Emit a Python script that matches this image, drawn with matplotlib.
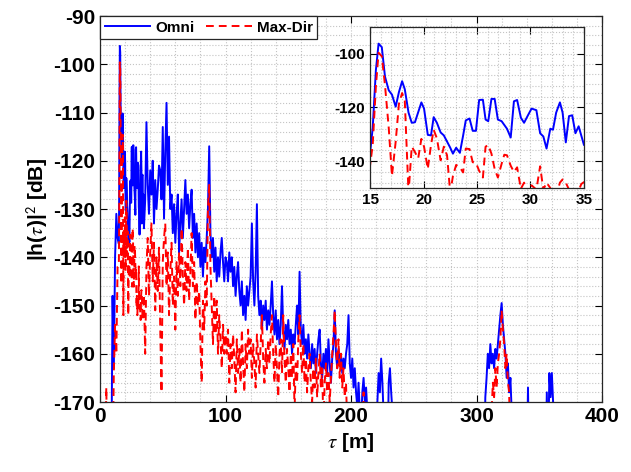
import numpy as np
import matplotlib
matplotlib.use('Agg')
import matplotlib.pyplot as plt
from matplotlib.ticker import MultipleLocator

plt.rcParams['font.family'] = ['Liberation Sans', 'DejaVu Sans']
plt.rcParams['axes.unicode_minus'] = False
plt.rcParams['mathtext.fontset'] = 'stix'

# ---- data (delay in m, power in dB); -185 = below the visible floor ----
tau_head = np.arange(0, 15)
omni_head = [-170, -185, -185, -185, -185, -185, -185, -185, -185, -185,
             -148, -163, -140, -131, -136]
maxdir_head = [-185, -185, -185, -185, -185, -167, -185, -185, -185, -185,
               -185, -164, -154, -160, -142]

tau_fine = [15.0, 15.25, 15.55, 15.8, 16.1, 16.4, 16.75, 17.05, 17.4, 17.7,
            18.0, 18.25, 18.6, 18.9, 19.2, 19.5, 19.8, 20.05, 20.4, 20.7,
            20.95, 21.25, 21.6, 21.9, 22.2, 22.5, 22.75, 23.05, 23.4, 23.7,
            23.95, 24.3, 24.6, 24.9, 25.2, 25.55, 25.8, 26.05, 26.35, 26.65,
            26.95, 27.3, 27.55, 27.8, 28.15, 28.45, 28.75, 29.1, 29.4, 29.75,
            30.1, 30.55, 30.9, 31.2, 31.5, 31.85, 32.1, 32.4, 32.75, 33.0,
            33.3, 33.6, 33.9, 34.2, 34.5, 34.75, 35.0]
omni_fine = [-137.2, -127.6, -106.0, -96.2, -97.5, -108.5, -113.6, -115.2, -119.7, -114.3,
             -110.2, -113.2, -121.9, -125.7, -125.5, -121.8, -118.1, -120.4, -130.2, -130.4,
             -123.6, -125.7, -129.3, -130.4, -132.7, -135.0, -137.2, -135.0, -136.9, -130.5,
             -124.8, -124.1, -128.7, -128.7, -117.2, -117.1, -124.5, -125.1, -116.8, -116.8,
             -124.5, -125.1, -126.5, -127.9, -131.2, -117.7, -117.2, -123.8, -125.7, -123.0,
             -120.4, -121.0, -129.6, -130.8, -135.3, -127.9, -128.3, -121.9, -118.1, -121.9,
             -133.0, -123.2, -122.9, -129.6, -127.0, -130.5, -134.0]
maxdir_fine = [-141.7, -134.0, -112.0, -99.6, -100.9, -111.7, -127.6, -145.5, -132.7, -118.7,
               -114.6, -117.5, -152.0, -134.6, -136.6, -139.0, -131.7, -134.6, -142.9, -134.0,
               -128.3, -131.5, -139.7, -134.6, -137.8, -152.0, -145.5, -141.4, -142.3, -144.2,
               -135.3, -135.5, -140.4, -140.6, -143.6, -146.1, -134.6, -134.0, -137.2, -142.9,
               -146.1, -141.0, -137.6, -137.8, -141.7, -144.0, -142.3, -150.3, -148.0, -152.0,
               -149.0, -150.6, -141.9, -150.6, -148.0, -150.0, -152.0, -153.0, -148.0, -146.8,
               -148.0, -150.6, -153.0, -152.0, -151.0, -148.5, -147.8]

tau_mid = np.arange(36, 241)
omni_mid = [-128, -112, -125, -131, -122, -127, -120, -133, -124, -130,
            -126, -121, -122, -128, -113, -132, -118, -108, -125, -115,
            -130, -127, -135, -129, -137, -131, -127, -139, -133, -128,
            -136, -130, -124, -131, -127, -134, -129, -126, -136, -131,
            -139, -133, -140, -135, -142, -137, -144, -138, -141, -136,
            -130, -117, -135, -140, -136, -143, -138, -145, -140, -144,
            -139, -136, -141, -145, -140, -141, -145, -139, -143, -140,
            -146, -142, -148, -144, -141, -147, -150, -145, -152, -148,
            -153, -146, -150, -147, -144, -133, -145, -150, -143, -129,
            -148, -152, -149, -155, -150, -153, -149, -155, -151, -154,
            -150, -145, -152, -156, -151, -157, -153, -158, -154, -146,
            -155, -159, -154, -157, -153, -158, -155, -160, -156, -158,
            -154, -150, -156, -143, -155, -158, -154, -160, -157, -161,
            -156, -160, -163, -158, -162, -159, -164, -160, -157, -155,
            -162, -165, -160, -163, -159, -164, -157, -162, -166, -161,
            -158, -151, -160, -163, -159, -162, -160, -164, -161, -163,
            -160, -158, -152, -162, -165, -161, -167, -163, -168, -171,
            -166, -172, -175, -168, -165, -170, -167, -172, -180, -185,
            -185, -185, -185, -185, -185, -170, -164, -168, -161, -166,
            -173, -185, -185, -185, -166, -163, -168, -172, -185, -185,
            -185, -185, -185, -185, -185]
maxdir_mid = [-160, -142, -136, -148, -139, -133, -145, -137, -151, -140,
              -147, -138, -155, -168, -141, -136, -133, -146, -139, -152,
              -143, -137, -150, -144, -155, -141, -148, -139, -146, -134,
              -144, -150, -141, -147, -138, -149, -143, -135, -146, -141,
              -153, -145, -150, -147, -158, -166, -149, -155, -145, -150,
              -130, -125, -142, -150, -158, -148, -156, -149, -160, -152,
              -157, -163, -154, -160, -156, -160, -155, -166, -158, -163,
              -156, -161, -168, -157, -164, -159, -166, -155, -162, -168,
              -158, -163, -155, -160, -157, -165, -158, -162, -167, -156,
              -160, -164, -158, -152, -161, -166, -159, -163, -157, -162,
              -156, -152, -160, -166, -158, -163, -169, -160, -157, -164,
              -152, -161, -166, -159, -163, -168, -160, -165, -158, -172,
              -162, -166, -157, -152, -160, -164, -158, -166, -161, -168,
              -163, -160, -166, -170, -163, -167, -161, -169, -164, -160,
              -167, -163, -175, -166, -162, -168, -164, -170, -165, -160,
              -156, -151, -158, -163, -157, -165, -160, -167, -163, -169,
              -166, -175, -185, -185, -185, -185, -185, -185, -185, -185,
              -185, -185, -185, -185, -168, -185, -185, -185, -185, -185,
              -185, -185, -185, -185, -185, -185, -185, -185, -185, -185,
              -185, -185, -185, -185, -185, -185, -185, -185, -185, -185,
              -185, -185, -185, -185, -185]

tau_tail = np.arange(300, 371)
omni_tail = [-185, -185, -185, -185, -185, -185, -185, -169, -165, -160,
             -163, -158, -162, -160, -163, -159, -161, -158, -155, -152,
             -149.5, -154, -157, -160, -165, -162, -168, -165, -172, -185,
             -185, -185, -185, -185, -185, -185, -185, -185, -185, -185,
             -185, -167, -185, -185, -185, -185, -185, -185, -185, -185,
             -185, -185, -185, -185, -185, -185, -168, -185, -164, -169,
             -164, -170, -185, -185, -185, -185, -185, -185, -185, -185,
             -185]
maxdir_tail = [-185, -185, -185, -185, -185, -185, -185, -185, -185, -185,
               -185, -185, -172, -166, -169, -163, -167, -162, -160, -157,
               -151, -155, -158, -163, -160, -166, -168, -185, -185, -185,
               -185, -185, -185, -185, -185, -185, -185, -185, -185, -185,
               -185, -185, -185, -185, -185, -185, -185, -185, -185, -185,
               -185, -185, -185, -185, -185, -185, -185, -185, -185, -185,
               -185, -185, -185, -185, -185, -185, -185, -185, -185, -185,
               -185]

tau = np.concatenate([tau_head, tau_fine, tau_mid, tau_tail])
omni = np.concatenate([omni_head, omni_fine, omni_mid, omni_tail])
maxdir = np.concatenate([maxdir_head, maxdir_fine, maxdir_mid, maxdir_tail])

blue = '#0000ff'
red = '#ff0000'
dash = (4.0, 2.6)
grid_kw = dict(color='#c4c4c4', linestyle=':', linewidth=0.8)


def style_axes(ax, fs):
    ax.tick_params(which='both', direction='in', top=True, right=True,
                   labelsize=fs, width=0.8)
    ax.tick_params(which='major', length=5)
    ax.tick_params(which='minor', length=0)
    for lab in ax.get_xticklabels() + ax.get_yticklabels():
        lab.set_fontweight('bold')
    ax.grid(True, which='both', **grid_kw)
    for s in ax.spines.values():
        s.set_linewidth(0.9)
        s.set_color('#262626')


fig = plt.figure(figsize=(6.31, 4.72), dpi=100)
ax = fig.add_axes([0.1585, 0.1483, 0.7956, 0.8178])

ax.plot(tau, omni, color=blue, lw=1.4, label='Omni')
ax.plot(tau, maxdir, color=red, lw=1.4, dashes=dash, label='Max-Dir')
ax.set_xlim(0, 400)
ax.set_ylim(-170, -90)
ax.xaxis.set_major_locator(MultipleLocator(100))
ax.xaxis.set_minor_locator(MultipleLocator(20))
ax.yaxis.set_major_locator(MultipleLocator(10))
ax.yaxis.set_minor_locator(MultipleLocator(2))
style_axes(ax, 15)
ax.set_xlabel(r'$\tau$ [m]', fontsize=15, fontweight='bold', labelpad=4)
ax.set_ylabel(r'|h($\tau$)|$^{\mathsf{2}}$ [dB]', fontsize=15,
              fontweight='bold', labelpad=2)

leg = ax.legend(loc='upper left', bbox_to_anchor=(0, 1), borderaxespad=0,
                ncol=2, fontsize=11, handlelength=3.0, columnspacing=0.8,
                handletextpad=0.3, fancybox=False, framealpha=1,
                borderpad=0.3)
leg.get_frame().set_edgecolor('#262626')
leg.get_frame().set_linewidth(0.9)
for t in leg.get_texts():
    t.set_fontweight('bold')

# inset zoom on the first arrivals
axin = fig.add_axes([0.5864, 0.6017, 0.3391, 0.3411])
axin.plot(tau, omni, color=blue, lw=1.4)
axin.plot(tau, maxdir, color=red, lw=1.4, dashes=dash)
axin.set_xlim(15, 35)
axin.set_ylim(-150, -90)
axin.xaxis.set_major_locator(MultipleLocator(5))
axin.xaxis.set_minor_locator(MultipleLocator(1))
axin.yaxis.set_major_locator(MultipleLocator(20))
axin.yaxis.set_minor_locator(MultipleLocator(4))
axin.set_yticks([-140, -120, -100])
style_axes(axin, 11)

fig.savefig('out.png', dpi=100)
